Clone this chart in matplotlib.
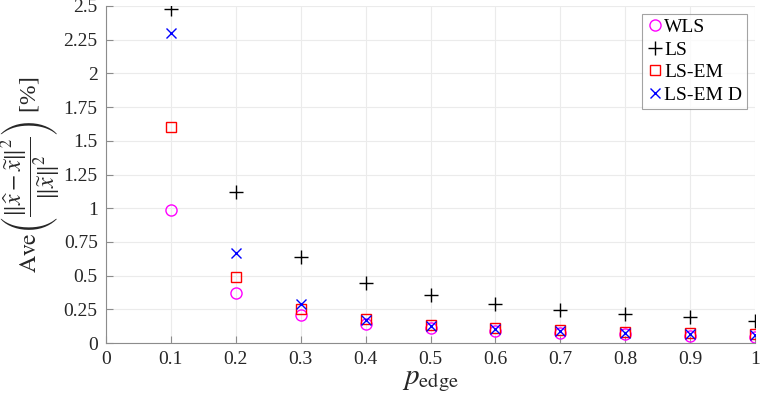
import matplotlib
matplotlib.use("Agg")
import matplotlib.pyplot as plt

p_edge = [0.1, 0.2, 0.3, 0.4, 0.5, 0.6, 0.7, 0.8, 0.9, 1.0]
wls = [0.99, 0.37, 0.205, 0.141, 0.112, 0.086, 0.077, 0.064, 0.055, 0.047]
ls = [2.48, 1.12, 0.64, 0.443, 0.356, 0.29, 0.244, 0.217, 0.192, 0.164]
ls_em = [1.60, 0.487, 0.255, 0.176, 0.136, 0.11, 0.094, 0.079, 0.072, 0.064]
ls_em_d = [2.30, 0.67, 0.289, 0.171, 0.129, 0.107, 0.089, 0.075, 0.068, 0.057]

xticks = [0, 0.1, 0.2, 0.3, 0.4, 0.5, 0.6, 0.7, 0.8, 0.9, 1]
yticks = [0, 0.25, 0.5, 0.75, 1, 1.25, 1.5, 1.75, 2, 2.25, 2.5]

plt.rcParams['font.family'] = ['Liberation Serif', 'DejaVu Serif']
plt.rcParams['mathtext.fontset'] = 'stix'

fig = plt.figure(figsize=(7.64, 4.09), dpi=100)
ax = fig.add_axes([106/764, 66/409, (755-106)/764, (343-6)/409])

ax.plot(p_edge, wls, linestyle='none', marker='o', ms=8, mfc='none', mec='#ff00ff', mew=1.0, label='WLS')
ax.plot(p_edge, ls, linestyle='none', marker='+', ms=10, color='black', mew=1.0, label='LS')
ax.plot(p_edge, ls_em, linestyle='none', marker='s', ms=7, mfc='none', mec='#ff0000', mew=1.0, label='LS-EM')
ax.plot(p_edge, ls_em_d, linestyle='none', marker='x', ms=7, color='#0000ff', mew=1.0, label='LS-EM D')

ax.set_xlim(0, 1)
ax.set_ylim(0, 2.5)
ax.set_xticks(xticks)
ax.set_yticks(yticks)
ax.set_xticklabels(['%g' % v for v in xticks])
ax.set_yticklabels(['%g' % v for v in yticks])
ax.grid(True, color='#ebebeb', linewidth=0.8)
ax.set_axisbelow(True)
for s in ['top', 'right']:
    ax.spines[s].set_visible(False)
for s in ['left', 'bottom']:
    ax.spines[s].set_color('#8c8c8c')
ax.tick_params(direction='in', length=5, color='#8c8c8c', labelsize=14, labelcolor='#262626', pad=6)

ax.set_xlabel(r'$p_{\mathrm{edge}}$', fontsize=21, color='#262626', labelpad=0)
ax.set_ylabel(r'$\mathrm{Ave}\left(\dfrac{\Vert\widehat{x}-\widetilde{x}\Vert^2}{\Vert\widetilde{x}\Vert^2}\right)$ [%]',
              fontsize=17, color='#262626')
ax.yaxis.set_label_coords(-0.068, 0.5)

leg = ax.legend(loc='upper right', fontsize=14, frameon=True, fancybox=False,
                edgecolor='#8c8c8c', borderpad=0.25, labelspacing=0.25,
                handlelength=0.8, handletextpad=0.1, borderaxespad=0.4)
leg.get_frame().set_linewidth(0.8)

fig.savefig('out.png', dpi=100)
